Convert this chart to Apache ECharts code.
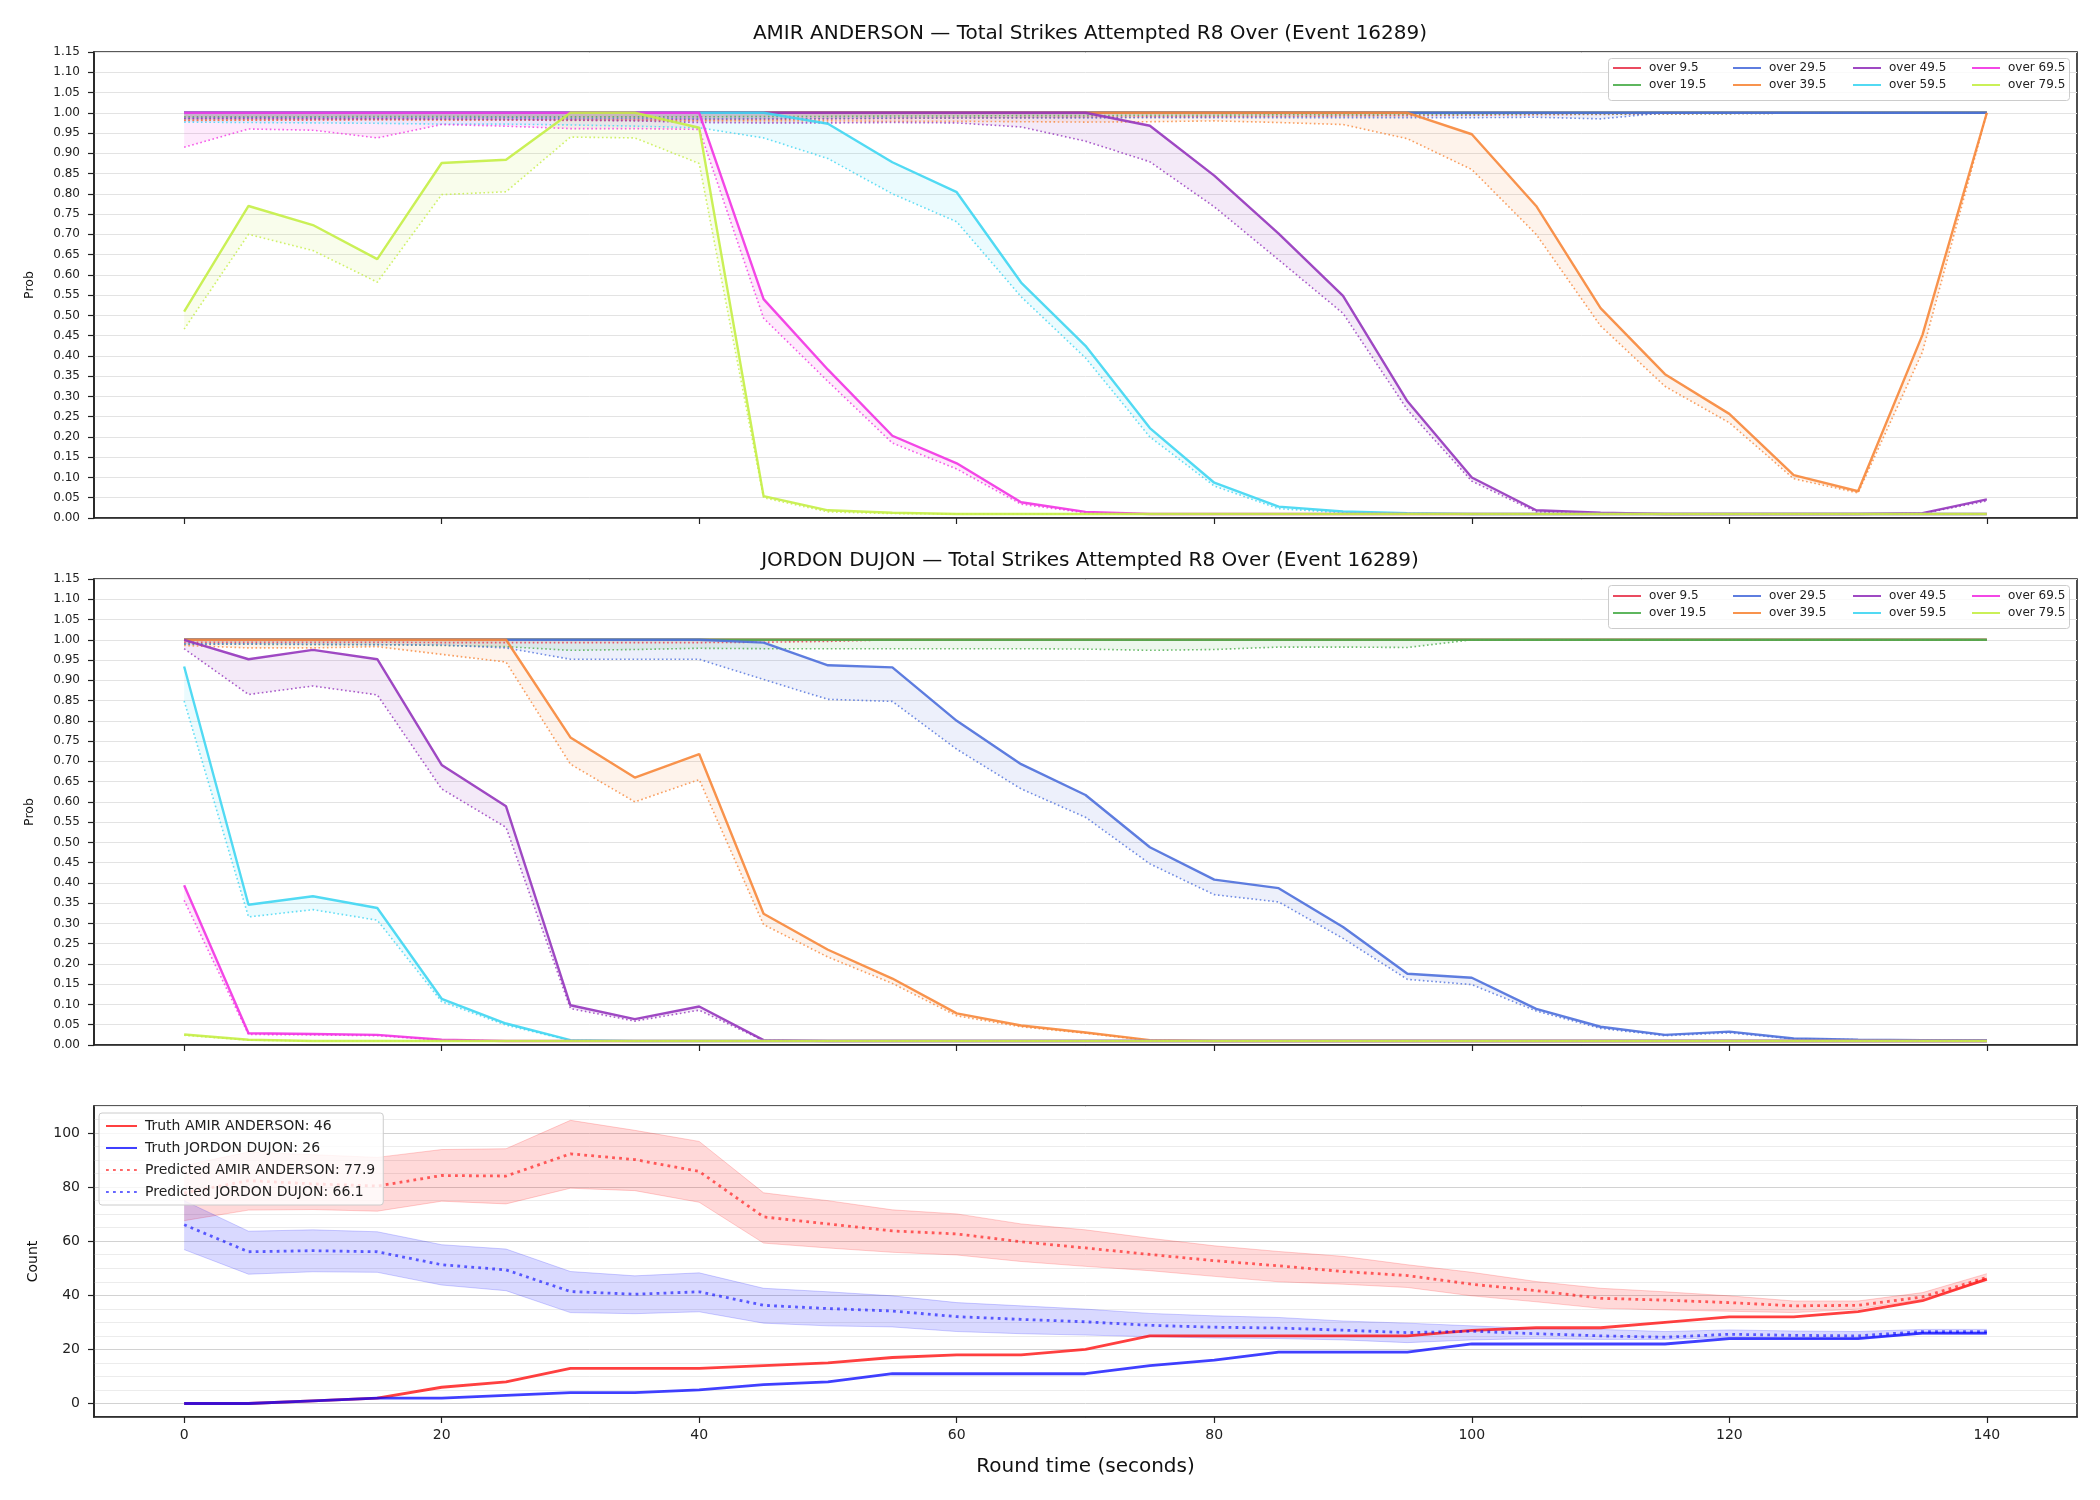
<!DOCTYPE html>
<html lang="en">
<head>
<meta charset="UTF-8">
<title>Total Strikes Attempted R8 Over (Event 16289)</title>
<script src="https://cdn.jsdelivr.net/npm/echarts@6/dist/echarts.min.js"></script>
<style>
  html, body { margin: 0; padding: 0; background: #fff; }
  #chart { width: 2100px; height: 1500px; }
</style>
</head>
<body>
<div id="chart"></div>
<script>
// round time (seconds) and axis ticks
var TIMES = [0,5,10,15,20,25,30,35,40,45,50,55,60,65,70,75,80,85,90,95,100,105,110,115,120,125,130,135,140];
var X_TICKS = [0,20,40,60,80,100,120,140];
var COUNT_TICKS = [0,20,40,60,80,100];

var PLAYER_A = 'AMIR ANDERSON';
var PLAYER_B = 'JORDON DUJON';
var THRESHOLDS = ['over 9.5','over 19.5','over 29.5','over 39.5','over 49.5','over 59.5','over 69.5','over 79.5'];
var COLORS = ['#e8374f','#4cae4c','#4d6fdc','#f7873a','#9535bd','#3fd6f2','#f233e3','#c4ee45'];

// AMIR ANDERSON: solid line / dotted line per threshold
var A_ACT_9  = [1,1,1,1,1,1,1,1,1,1,1,1,1,1,1,1,1,1,1,1,1,1,1,1,1,1,1,1,1];
var A_PRD_9  = [0.981,0.982,0.982,0.983,0.983,0.983,0.982,0.982,0.983,0.984,0.985,0.986,0.987,0.988,0.989,0.990,0.990,0.991,0.992,0.993,0.994,0.995,0.996,0.997,0.998,0.999,1,1,1];
var A_ACT_19 = [1,1,1,1,1,1,1,1,1,1,1,1,1,1,1,1,1,1,1,1,1,1,1,1,1,1,1,1,1];
var A_PRD_19 = [0.990,0.990,0.990,0.991,0.991,0.990,0.990,0.990,0.990,0.991,0.991,0.992,0.992,0.993,0.993,0.994,0.994,0.995,0.995,0.996,0.996,0.997,0.997,0.998,0.998,0.999,1,1,1];
var A_ACT_29 = [1,1,1,1,1,1,1,1,1,1,1,1,1,1,1,1,1,1,1,1,1,1,1,1,1,1,1,1,1];
var A_PRD_29 = [0.986,0.987,0.987,0.987,0.987,0.987,0.986,0.986,0.985,0.986,0.986,0.987,0.987,0.987,0.987,0.988,0.988,0.988,0.988,0.988,0.988,0.989,0.985,1,1,1,1,1,1];
var A_ACT_39 = [1,1,1,1,1,1,1,1,1,1,1,1,1,1,1,1,1,1,1,1,0.947,0.770,0.518,0.355,0.257,0.106,0.066,0.452,1];
var A_PRD_39 = [0.982,0.982,0.983,0.983,0.982,0.982,0.981,0.981,0.980,0.980,0.980,0.979,0.979,0.978,0.977,0.978,0.980,0.976,0.971,0.936,0.860,0.700,0.474,0.325,0.235,0.097,0.062,0.410,1];
var A_ACT_49 = [1,1,1,1,1,1,1,1,1,1,1,1,1,1,1,0.968,0.845,0.702,0.548,0.288,0.100,0.019,0.013,0.010,0.010,0.010,0.010,0.012,0.046];
var A_PRD_49 = [0.986,0.986,0.985,0.985,0.984,0.983,0.982,0.980,0.976,0.975,0.975,0.976,0.975,0.965,0.930,0.879,0.768,0.637,0.505,0.267,0.091,0.015,0.011,0.010,0.010,0.010,0.010,0.011,0.042];
var A_ACT_59 = [1,1,1,1,1,1,1,1,1,1,0.973,0.878,0.804,0.581,0.425,0.222,0.087,0.028,0.016,0.012,0.01,0.01,0.01,0.01,0.01,0.01,0.01,0.01,0.01];
var A_PRD_59 = [0.977,0.976,0.975,0.974,0.972,0.972,0.970,0.967,0.963,0.938,0.887,0.800,0.731,0.546,0.395,0.200,0.079,0.023,0.013,0.011,0.01,0.01,0.01,0.01,0.01,0.01,0.01,0.01,0.01];
var A_ACT_69 = [1,1,1,1,1,1,1,1,1,0.540,0.366,0.203,0.135,0.039,0.015,0.01,0.01,0.01,0.01,0.01,0.01,0.01,0.01,0.01,0.01,0.01,0.01,0.01,0.01];
var A_PRD_69 = [0.915,0.960,0.957,0.938,0.971,0.967,0.961,0.961,0.959,0.493,0.337,0.185,0.121,0.034,0.013,0.01,0.01,0.01,0.01,0.01,0.01,0.01,0.01,0.01,0.01,0.01,0.01,0.01,0.01];
var A_ACT_79 = [0.509,0.770,0.723,0.639,0.876,0.884,1,1,0.963,0.054,0.019,0.013,0.01,0.01,0.01,0.01,0.01,0.01,0.01,0.01,0.01,0.01,0.01,0.01,0.01,0.01,0.01,0.01,0.01];
var A_PRD_79 = [0.466,0.700,0.660,0.582,0.798,0.805,0.940,0.938,0.875,0.050,0.015,0.011,0.01,0.01,0.01,0.01,0.01,0.01,0.01,0.01,0.01,0.01,0.01,0.01,0.01,0.01,0.01,0.01,0.01];

// JORDON DUJON
var J_ACT_9  = [1,1,1,1,1,1,1,1,1,1,1,1,1,1,1,1,1,1,1,1,1,1,1,1,1,1,1,1,1];
var J_PRD_9  = [0.994,0.994,0.994,0.994,0.993,0.993,0.993,0.993,0.993,0.994,0.996,1,1,1,1,1,1,1,1,1,1,1,1,1,1,1,1,1,1];
var J_ACT_19 = [1,1,1,1,1,1,1,1,1,1,1,1,1,1,1,1,1,1,1,1,1,1,1,1,1,1,1,1,1];
var J_PRD_19 = [0.989,0.989,0.988,0.988,0.986,0.983,0.974,0.976,0.979,0.978,0.978,0.978,0.978,0.978,0.977,0.974,0.976,0.982,0.982,0.981,1,1,1,1,1,1,1,1,1];
var J_ACT_29 = [1,1,1,1,1,1,1,1,1,0.993,0.937,0.932,0.800,0.693,0.617,0.488,0.408,0.387,0.291,0.176,0.166,0.089,0.045,0.025,0.033,0.016,0.013,0.012,0.012];
var J_PRD_29 = [0.990,0.990,0.989,0.988,0.987,0.980,0.952,0.952,0.952,0.902,0.853,0.848,0.730,0.632,0.562,0.447,0.371,0.353,0.263,0.162,0.149,0.084,0.041,0.023,0.030,0.015,0.013,0.012,0.012];
var J_ACT_39 = [1,1,1,1,1,1,0.759,0.660,0.718,0.324,0.235,0.164,0.078,0.048,0.031,0.012,0.01,0.01,0.01,0.01,0.01,0.01,0.01,0.01,0.01,0.01,0.01,0.01,0.01];
var J_PRD_39 = [0.986,0.980,0.980,0.983,0.964,0.945,0.693,0.600,0.655,0.297,0.217,0.152,0.072,0.045,0.029,0.011,0.01,0.01,0.01,0.01,0.01,0.01,0.01,0.01,0.01,0.01,0.01,0.01,0.01];
var J_ACT_49 = [1,0.952,0.975,0.952,0.691,0.589,0.098,0.064,0.095,0.012,0.01,0.01,0.01,0.01,0.01,0.01,0.01,0.01,0.01,0.01,0.01,0.01,0.01,0.01,0.01,0.01,0.01,0.01,0.01];
var J_PRD_49 = [0.978,0.865,0.886,0.864,0.632,0.537,0.090,0.059,0.086,0.011,0.01,0.01,0.01,0.01,0.01,0.01,0.01,0.01,0.01,0.01,0.01,0.01,0.01,0.01,0.01,0.01,0.01,0.01,0.01];
var J_ACT_59 = [0.934,0.346,0.367,0.338,0.114,0.053,0.012,0.01,0.01,0.01,0.01,0.01,0.01,0.01,0.01,0.01,0.01,0.01,0.01,0.01,0.01,0.01,0.01,0.01,0.01,0.01,0.01,0.01,0.01];
var J_PRD_59 = [0.849,0.316,0.334,0.308,0.107,0.049,0.011,0.01,0.01,0.01,0.01,0.01,0.01,0.01,0.01,0.01,0.01,0.01,0.01,0.01,0.01,0.01,0.01,0.01,0.01,0.01,0.01,0.01,0.01];
var J_ACT_69 = [0.394,0.029,0.027,0.025,0.013,0.01,0.01,0.01,0.01,0.01,0.01,0.01,0.01,0.01,0.01,0.01,0.01,0.01,0.01,0.01,0.01,0.01,0.01,0.01,0.01,0.01,0.01,0.01,0.01];
var J_PRD_69 = [0.357,0.026,0.025,0.023,0.012,0.01,0.01,0.01,0.01,0.01,0.01,0.01,0.01,0.01,0.01,0.01,0.01,0.01,0.01,0.01,0.01,0.01,0.01,0.01,0.01,0.01,0.01,0.01,0.01];
var J_ACT_79 = [0.026,0.013,0.01,0.01,0.01,0.01,0.01,0.01,0.01,0.01,0.01,0.01,0.01,0.01,0.01,0.01,0.01,0.01,0.01,0.01,0.01,0.01,0.01,0.01,0.01,0.01,0.01,0.01,0.01];
var J_PRD_79 = [0.024,0.012,0.01,0.01,0.01,0.01,0.01,0.01,0.01,0.01,0.01,0.01,0.01,0.01,0.01,0.01,0.01,0.01,0.01,0.01,0.01,0.01,0.01,0.01,0.01,0.01,0.01,0.01,0.01];

// counts
var TRUTH_A = [0,0,1,2,6,8,13,13,13,14,15,17,18,18,20,25,25,25,25,25,27,28,28,30,32,32,34,38,46];
var TRUTH_B = [0,0,1,2,2,3,4,4,5,7,8,11,11,11,11,14,16,19,19,19,22,22,22,22,24,24,24,26,26];
var PRED_A    = [77.9,82.4,81.2,80.4,84.3,84.1,92.3,90.2,85.8,69.0,66.4,63.8,62.7,59.8,57.5,55.1,52.8,50.9,48.8,47.3,44.1,41.7,38.9,38.2,37.3,36.1,36.3,39.4,46.6];
var PRED_A_LO = [67.6,71.5,71.7,71.1,74.8,73.8,79.6,78.7,74.4,59.3,57.5,55.9,54.9,52.5,50.7,49.1,47.0,45.0,44.1,42.9,39.8,37.6,35.2,34.6,34.1,33.6,34.9,38.6,45.4];
var PRED_A_HI = [88.0,93.0,92.0,91.0,93.9,94.2,104.7,101.0,96.9,77.9,75.0,71.6,70.1,66.4,64.2,61.1,58.3,56.2,54.4,51.3,48.5,45.1,42.6,41.3,39.8,37.9,37.9,41.0,48.0];
var PRED_B    = [66.1,56.1,56.5,56.1,51.3,49.4,41.4,40.4,41.3,36.3,35.1,34.2,32.1,31.1,30.2,28.9,28.2,27.9,27.1,26.2,26.7,25.8,25.0,24.5,25.6,25.2,25.0,26.6,26.6];
var PRED_B_HI = [75.0,63.7,64.2,63.5,58.7,57.1,48.8,47.2,48.3,42.6,41.3,39.8,37.3,36.1,34.9,33.3,32.4,31.8,30.5,29.7,28.7,27.7,27.4,26.6,27.2,26.8,26.6,27.4,27.4];
var PRED_B_LO = [56.9,47.8,48.7,48.5,43.8,41.7,33.6,33.2,33.9,29.7,28.7,28.3,26.6,25.8,25.3,24.7,24.2,24.0,23.5,22.5,23.5,24.0,23.7,23.7,24.4,24.0,24.0,25.6,25.6];

var FONT = 'DejaVu Sans';
var chart = echarts.init(document.getElementById('chart'));

function pts(vals) {
  return vals.map(function (v, i) { return [TIMES[i], v]; });
}

function rgba(hex, a) {
  var n = parseInt(hex.slice(1), 16);
  return 'rgba(' + (n >> 16 & 255) + ',' + (n >> 8 & 255) + ',' + (n & 255) + ',' + a + ')';
}

// filled band between two curves, drawn as one polygon through the axes
function bandSeries(gi, a, b, color, fillAlpha, edgeAlpha) {
  return {
    type: 'custom', xAxisIndex: gi, yAxisIndex: gi, silent: true,
    data: TIMES.map(function (t, i) { return [t, a[i], b[i]]; }),
    encode: { x: 0, y: [1, 2] },
    renderItem: function (params, api) {
      if (params.dataIndex !== 0) return null;
      var up = [], dn = [];
      for (var i = 0; i < TIMES.length; i++) {
        up.push(api.coord([TIMES[i], a[i]]));
        dn.push(api.coord([TIMES[i], b[i]]));
      }
      var group = { type: 'group', children: [
        { type: 'polygon', shape: { points: up.concat(dn.slice().reverse()) },
          style: { fill: rgba(color, fillAlpha), stroke: null } }
      ] };
      if (edgeAlpha) {
        group.children.push({ type: 'polyline', shape: { points: up },
          style: { fill: null, stroke: rgba(color, edgeAlpha), lineWidth: 1 } });
        group.children.push({ type: 'polyline', shape: { points: dn },
          style: { fill: null, stroke: rgba(color, edgeAlpha), lineWidth: 1 } });
      }
      return group;
    }
  };
}

var series = [];

// one probability panel: band between the two lines, solid line, dotted line
function probPanel(gi, acts, prds) {
  THRESHOLDS.forEach(function (name, k) {
    var a = acts[k], p = prds[k], c = COLORS[k];
    series.push(bandSeries(gi, a, p, c, 0.1, 0));
    series.push({ type: 'line', name: name, xAxisIndex: gi, yAxisIndex: gi, data: pts(a),
      symbol: 'none', silent: true, itemStyle: { color: c },
      lineStyle: { color: c, width: 2.4, opacity: 0.9 } });
    series.push({ type: 'line', name: name + ' pred', xAxisIndex: gi, yAxisIndex: gi, data: pts(p),
      symbol: 'none', silent: true, itemStyle: { color: c },
      lineStyle: { color: c, width: 1.6, type: [1.6, 2.6], opacity: 0.8 } });
  });
}

probPanel(0, [A_ACT_9, A_ACT_19, A_ACT_29, A_ACT_39, A_ACT_49, A_ACT_59, A_ACT_69, A_ACT_79],
             [A_PRD_9, A_PRD_19, A_PRD_29, A_PRD_39, A_PRD_49, A_PRD_59, A_PRD_69, A_PRD_79]);
probPanel(1, [J_ACT_9, J_ACT_19, J_ACT_29, J_ACT_39, J_ACT_49, J_ACT_59, J_ACT_69, J_ACT_79],
             [J_PRD_9, J_PRD_19, J_PRD_29, J_PRD_39, J_PRD_49, J_PRD_59, J_PRD_69, J_PRD_79]);

// count panel
var nTruthA = 'Truth ' + PLAYER_A + ': ' + TRUTH_A[TRUTH_A.length - 1];
var nTruthB = 'Truth ' + PLAYER_B + ': ' + TRUTH_B[TRUTH_B.length - 1];
var nPredA = 'Predicted ' + PLAYER_A + ': ' + PRED_A[0].toFixed(1);
var nPredB = 'Predicted ' + PLAYER_B + ': ' + PRED_B[0].toFixed(1);

series.push({ type: 'line', name: nTruthA, xAxisIndex: 2, yAxisIndex: 2, data: pts(TRUTH_A),
  symbol: 'none', silent: true, itemStyle: { color: '#ff0000' },
  lineStyle: { color: '#ff0000', width: 2.8, opacity: 0.75 } });
series.push({ type: 'line', name: nTruthB, xAxisIndex: 2, yAxisIndex: 2, data: pts(TRUTH_B),
  symbol: 'none', silent: true, itemStyle: { color: '#0000ff' },
  lineStyle: { color: '#0000ff', width: 2.8, opacity: 0.75 } });
series.push(bandSeries(2, PRED_A_HI, PRED_A_LO, '#ff0000', 0.15, 0.18));
series.push({ type: 'line', name: nPredA, xAxisIndex: 2, yAxisIndex: 2, data: pts(PRED_A),
  symbol: 'none', silent: true, itemStyle: { color: '#ff0000' },
  lineStyle: { color: '#ff0000', width: 2.8, type: [2.8, 4.2], opacity: 0.6 } });
series.push(bandSeries(2, PRED_B_HI, PRED_B_LO, '#0000ff', 0.15, 0.18));
series.push({ type: 'line', name: nPredB, xAxisIndex: 2, yAxisIndex: 2, data: pts(PRED_B),
  symbol: 'none', silent: true, itemStyle: { color: '#0000ff' },
  lineStyle: { color: '#0000ff', width: 2.8, type: [2.8, 4.2], opacity: 0.6 } });

var gridBox = { show: true, borderColor: '#222', borderWidth: 1.6, left: 94, right: 23 };
var grids = [
  Object.assign({ top: 52, height: 466 }, gridBox),
  Object.assign({ top: 579, height: 466 }, gridBox),
  Object.assign({ top: 1106, height: 311 }, gridBox)
];

function xAxisFor(gi) {
  return {
    type: 'value', gridIndex: gi, min: -7, max: 147,
    axisLine: { show: true, onZero: false, lineStyle: { color: '#222', width: 1.6 } },
    axisTick: { show: true, length: 6, customValues: X_TICKS, lineStyle: { color: '#222', width: 1.2 } },
    axisLabel: { show: gi === 2, customValues: X_TICKS, fontSize: 14, color: '#222', margin: 11, fontFamily: FONT },
    splitLine: { show: false },
    name: gi === 2 ? 'Round time (seconds)' : '',
    nameLocation: 'middle', nameGap: 40,
    nameTextStyle: { fontSize: 20, color: '#111', fontFamily: FONT }
  };
}

function probYAxis(gi) {
  return {
    type: 'value', gridIndex: gi, min: 0, max: 1.15, interval: 0.05,
    name: 'Prob', nameLocation: 'middle', nameRotate: 90, nameGap: 58,
    nameTextStyle: { fontSize: 12.5, color: '#111', fontFamily: FONT },
    axisLine: { show: true, onZero: false, lineStyle: { color: '#222', width: 1.6 } },
    axisTick: { show: true, length: 6, lineStyle: { color: '#222', width: 1.2 } },
    axisLabel: { fontSize: 12, color: '#222', margin: 14, fontFamily: FONT,
      formatter: function (v) { return v.toFixed(2); } },
    splitLine: { show: true, lineStyle: { color: '#e3e3e3', width: 1 } }
  };
}

var option = {
  backgroundColor: '#ffffff',
  animation: false,
  textStyle: { fontFamily: FONT },
  title: [
    { text: PLAYER_A + ' — Total Strikes Attempted R8 Over (Event 16289)', left: 1085, top: 19, textAlign: 'center',
      textStyle: { fontSize: 20, fontWeight: 'normal', color: '#111', fontFamily: FONT } },
    { text: PLAYER_B + ' — Total Strikes Attempted R8 Over (Event 16289)', left: 1085, top: 546, textAlign: 'center',
      textStyle: { fontSize: 20, fontWeight: 'normal', color: '#111', fontFamily: FONT } }
  ],
  grid: grids,
  xAxis: [xAxisFor(0), xAxisFor(1), xAxisFor(2)],
  yAxis: [
    probYAxis(0),
    probYAxis(1),
    {
      type: 'value', gridIndex: 2, min: -5, max: 110, interval: 5,
      name: 'Count', nameLocation: 'middle', nameRotate: 90, nameGap: 54,
      nameTextStyle: { fontSize: 14, color: '#111', fontFamily: FONT },
      axisLine: { show: true, onZero: false, lineStyle: { color: '#222', width: 1.6 } },
      axisTick: { show: true, length: 6, customValues: COUNT_TICKS, lineStyle: { color: '#222', width: 1.2 } },
      axisLabel: { customValues: COUNT_TICKS, fontSize: 14, color: '#222', margin: 14, fontFamily: FONT },
      splitLine: { show: false }
    },
    {
      // grid lines only: minor every 5, major every 20
      type: 'value', gridIndex: 2, position: 'right', min: -5, max: 110, interval: 5,
      axisLine: { show: false, onZero: false }, axisTick: { show: false }, axisLabel: { show: false },
      splitLine: { show: true, lineStyle: { color: ['#ececec', '#d2d2d2', '#ececec', '#ececec'], width: 1 } }
    }
  ],
  legend: [],
  graphic: [
    { type: 'rect', left: 1608, top: 58, z: 10, silent: true,
      shape: { width: 461, height: 42, r: 3 },
      style: { fill: 'rgba(255,255,255,0.8)', stroke: '#cccccc', lineWidth: 1 } },
    { type: 'rect', left: 1608, top: 585, z: 10, silent: true,
      shape: { width: 461, height: 43, r: 3 },
      style: { fill: 'rgba(255,255,255,0.8)', stroke: '#cccccc', lineWidth: 1 } }
  ],
  series: series
};

// threshold legends: 4 columns x 2 rows in each probability panel
var LEG_COL_X = [1612, 1732, 1852, 1971];
[62, 590].forEach(function (top) {
  for (var c = 0; c < 4; c++) {
    option.legend.push({
      orient: 'vertical', left: LEG_COL_X[c], top: top, padding: 0, z: 20,
      itemWidth: 28, itemHeight: 14, itemGap: 5, selectedMode: false,
      itemStyle: { opacity: 0 },
      data: [THRESHOLDS[2 * c], THRESHOLDS[2 * c + 1]],
      textStyle: { fontSize: 12, color: '#222', fontFamily: FONT, padding: [0, 0, 0, 3] }
    });
  }
});

option.legend.push({
  orient: 'vertical', left: 99, top: 1113, z: 20,
  padding: [6, 8, 6, 6], itemWidth: 31, itemHeight: 14, itemGap: 8, selectedMode: false,
  backgroundColor: 'rgba(255,255,255,0.8)', borderColor: '#cccccc', borderWidth: 1, borderRadius: 3,
  itemStyle: { opacity: 0 },
  data: [nTruthA, nTruthB, nPredA, nPredB],
  textStyle: { fontSize: 14, color: '#222', fontFamily: FONT, padding: [0, 0, 0, 3] }
});

chart.setOption(option);
</script>
</body>
</html>
